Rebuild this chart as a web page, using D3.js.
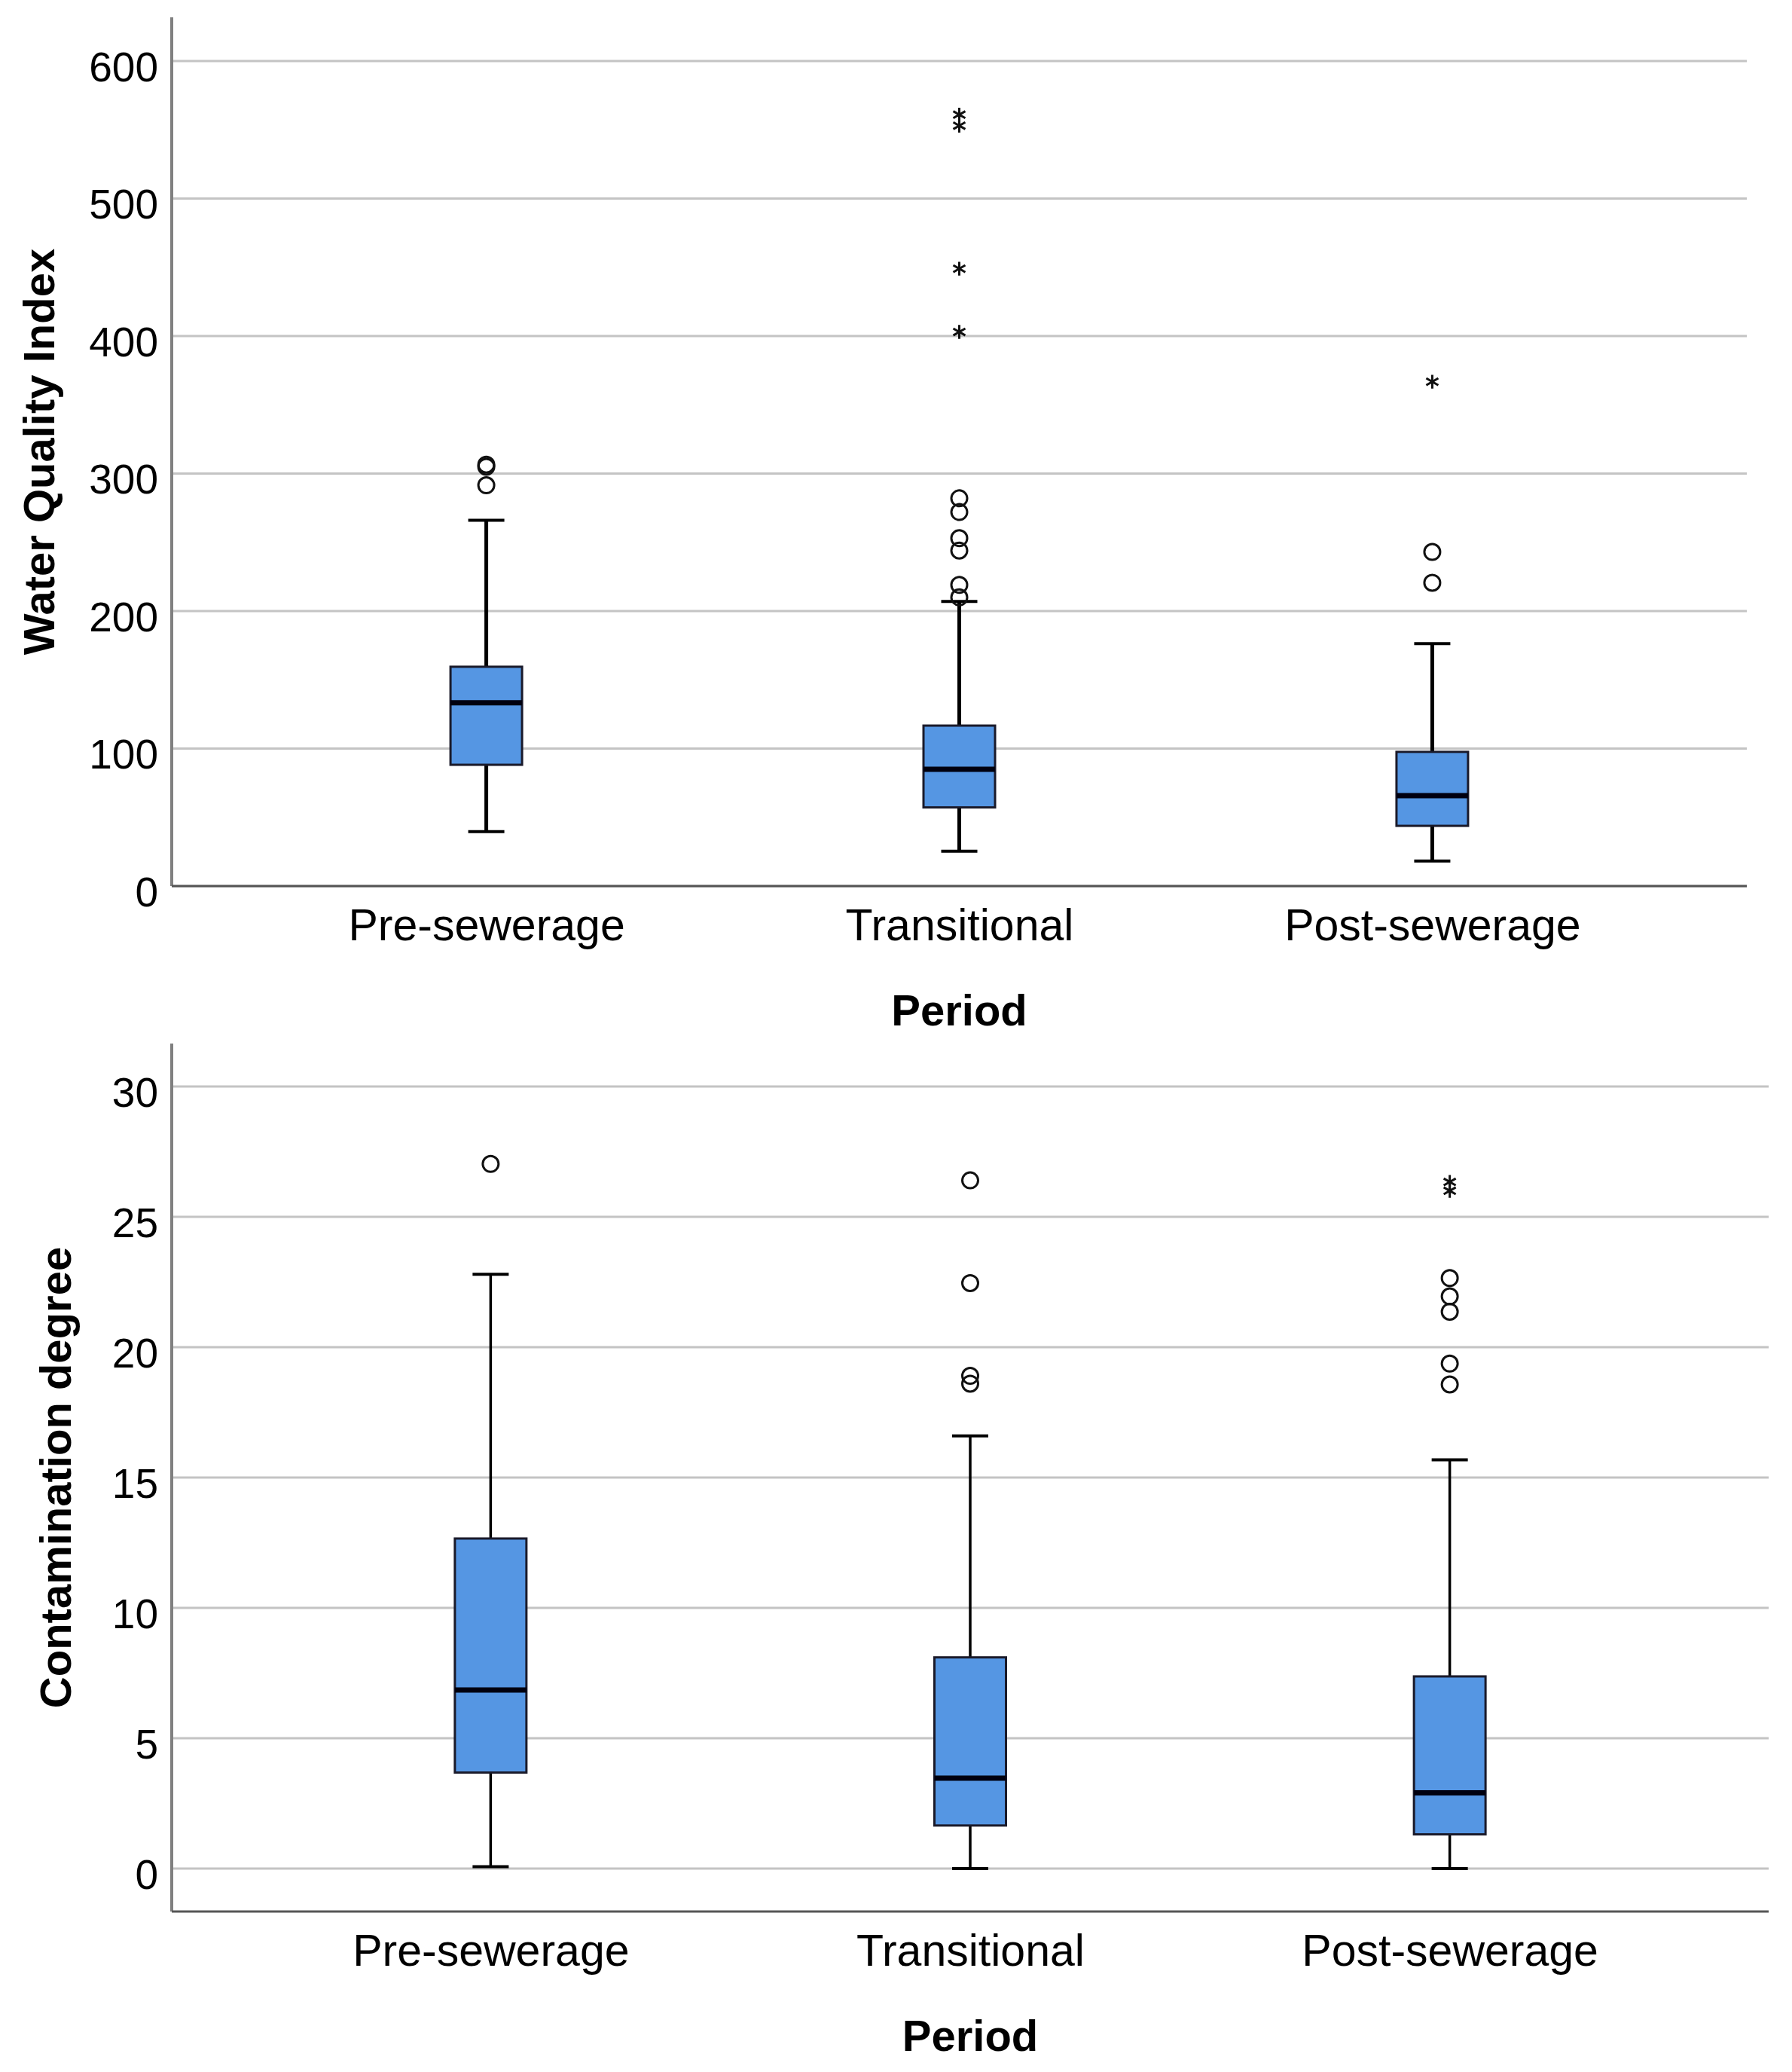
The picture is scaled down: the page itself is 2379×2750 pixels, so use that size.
<!DOCTYPE html>
<html>
<head>
<meta charset="utf-8">
<script src="https://cdn.jsdelivr.net/npm/d3@7.9.0/dist/d3.min.js"></script>
<style>
  body { margin: 0; background: #fff; }
  text { font-family: "Liberation Sans", Arial, sans-serif; fill: #000; }
</style>
</head>
<body>
<div id="chart"></div>
<script>
// periods on the x axis
const periods = ["Pre-sewerage", "Transitional", "Post-sewerage"];

// Water Quality Index: [lower whisker, q1, median, q3, upper whisker]
const wqiBoxes = [
  [39.6, 88.2, 133.3, 159.5, 266],
  [25.3, 57.2, 85, 116.7, 207],
  [18.2, 43.8, 65.7, 97.6, 176.3]
];
const wqiOutliers = [[291.5, 305, 306.5], [210, 219, 244, 253, 272, 282], [220.6, 243]];
const wqiExtremes = [[], [403, 449, 553, 561], [366.8]];
const wqiTicks = [0, 100, 200, 300, 400, 500, 600];

// Contamination degree
const cdBoxes = [
  [0.07, 3.68, 6.85, 12.66, 22.8],
  [0.0, 1.65, 3.47, 8.1, 16.6],
  [0.0, 1.31, 2.9, 7.37, 15.68]
];
const cdOutliers = [[27.03], [18.6, 18.9, 22.46, 26.4], [18.57, 19.37, 21.36, 21.95, 22.65]];
const cdExtremes = [[], [], [26.0, 26.34]];
const cdTicks = [0, 5, 10, 15, 20, 25, 30];

const W = 2379, H = 2750;
const svg = d3.select("#chart").append("svg")
    .attr("width", W)
    .attr("height", H);

function drawPanel(cfg) {
    const g = svg.append("g");

    const x = d3.scalePoint()
        .domain(periods)
        .range([cfg.left, cfg.right])
        .padding(0.665);

    const y = d3.scaleLinear()
        .domain(cfg.domain)
        .range([cfg.bottom, cfg.top]);

    // gridlines
    g.append("g")
        .selectAll("line")
        .data(cfg.ticks)
        .enter()
        .append("line")
        .attr("x1", cfg.left)
        .attr("x2", cfg.right)
        .attr("y1", d => y(d))
        .attr("y2", d => y(d))
        .attr("stroke", "#c4c4c4")
        .attr("stroke-width", 3);

    // y axis, labels only
    const yAxis = g.append("g")
        .attr("transform", "translate(" + cfg.left + ",0)")
        .call(d3.axisLeft(y).tickValues(cfg.ticks).tickSize(0).tickPadding(18));
    yAxis.select(".domain")
        .attr("d", "M0," + cfg.top + "V" + cfg.bottom)
        .attr("stroke", "#808080")
        .attr("stroke-width", 4);
    yAxis.selectAll("text")
        .attr("font-size", 55)
        .attr("font-family", "Liberation Sans, Arial, sans-serif")
        .attr("dy", "0.48em")
        .attr("fill", "#000");

    // x axis
    const xAxis = g.append("g")
        .attr("transform", "translate(0," + cfg.bottom + ")")
        .call(d3.axisBottom(x).tickSize(0).tickPadding(30));
    xAxis.select(".domain")
        .attr("d", "M" + cfg.left + ",0H" + cfg.right)
        .attr("stroke", "#555")
        .attr("stroke-width", 3);
    xAxis.selectAll("text")
        .attr("font-size", 59)
        .attr("font-family", "Liberation Sans, Arial, sans-serif")
        .attr("dy", "0.72em")
        .attr("fill", "#000");

    const boxW = 95, capW = 48;

    const boxes = g.selectAll(".box")
        .data(cfg.boxes)
        .enter()
        .append("g")
        .attr("transform", (d, i) => "translate(" + x(periods[i]) + ",0)");

    // whiskers
    boxes.append("line")
        .attr("y1", d => y(d[0])).attr("y2", d => y(d[1]))
        .attr("stroke", "#000").attr("stroke-width", cfg.whiskerW);
    boxes.append("line")
        .attr("y1", d => y(d[3])).attr("y2", d => y(d[4]))
        .attr("stroke", "#000").attr("stroke-width", cfg.whiskerW);
    boxes.append("line")
        .attr("x1", -capW / 2).attr("x2", capW / 2)
        .attr("y1", d => y(d[0])).attr("y2", d => y(d[0]))
        .attr("stroke", "#000").attr("stroke-width", 4);
    boxes.append("line")
        .attr("x1", -capW / 2).attr("x2", capW / 2)
        .attr("y1", d => y(d[4])).attr("y2", d => y(d[4]))
        .attr("stroke", "#000").attr("stroke-width", 4);

    // box
    boxes.append("rect")
        .attr("x", -boxW / 2)
        .attr("width", boxW)
        .attr("y", d => y(d[3]))
        .attr("height", d => y(d[1]) - y(d[3]))
        .attr("fill", "#5596e3")
        .attr("stroke", "#1a1a2a")
        .attr("stroke-width", 3);

    // median
    boxes.append("line")
        .attr("x1", -boxW / 2).attr("x2", boxW / 2)
        .attr("y1", d => y(d[2])).attr("y2", d => y(d[2]))
        .attr("stroke", "#000010").attr("stroke-width", 7);

    // outliers (circles)
    cfg.outliers.forEach((vals, i) => {
        g.selectAll(null)
            .data(vals)
            .enter()
            .append("circle")
            .attr("cx", x(periods[i]))
            .attr("cy", d => y(d))
            .attr("r", 10.5)
            .attr("fill", "none")
            .attr("stroke", "#111")
            .attr("stroke-width", 3);
    });

    // extremes (stars)
    const star = d3.symbol().type(d3.symbolAsterisk).size(240);
    cfg.extremes.forEach((vals, i) => {
        g.selectAll(null)
            .data(vals)
            .enter()
            .append("path")
            .attr("d", star)
            .attr("transform", d => "translate(" + x(periods[i]) + "," + y(d) + ")")
            .attr("fill", "none")
            .attr("stroke", "#111")
            .attr("stroke-width", 3);
    });

    // axis titles
    g.append("text")
        .attr("transform", "translate(" + cfg.titleX + "," + ((cfg.top + cfg.bottom) / 2) + ") rotate(-90)")
        .attr("text-anchor", "middle")
        .attr("font-size", 58)
        .attr("font-weight", "bold")
        .text(cfg.yTitle);

    g.append("text")
        .attr("x", x(periods[1]))
        .attr("y", cfg.bottom + 185)
        .attr("text-anchor", "middle")
        .attr("font-size", 58)
        .attr("font-weight", "bold")
        .text("Period");
}

drawPanel({
    left: 228, right: 2319, top: 23, bottom: 1176,
    domain: [0, 631.8],
    ticks: wqiTicks,
    boxes: wqiBoxes, outliers: wqiOutliers, extremes: wqiExtremes,
    yTitle: "Water Quality Index", titleX: 72, whiskerW: 5
});

drawPanel({
    left: 228, right: 2348, top: 1385, bottom: 2537,
    domain: [-1.65, 31.65],
    ticks: cdTicks,
    boxes: cdBoxes, outliers: cdOutliers, extremes: cdExtremes,
    yTitle: "Contamination degree", titleX: 94, whiskerW: 3.5
});
</script>
</body>
</html>
